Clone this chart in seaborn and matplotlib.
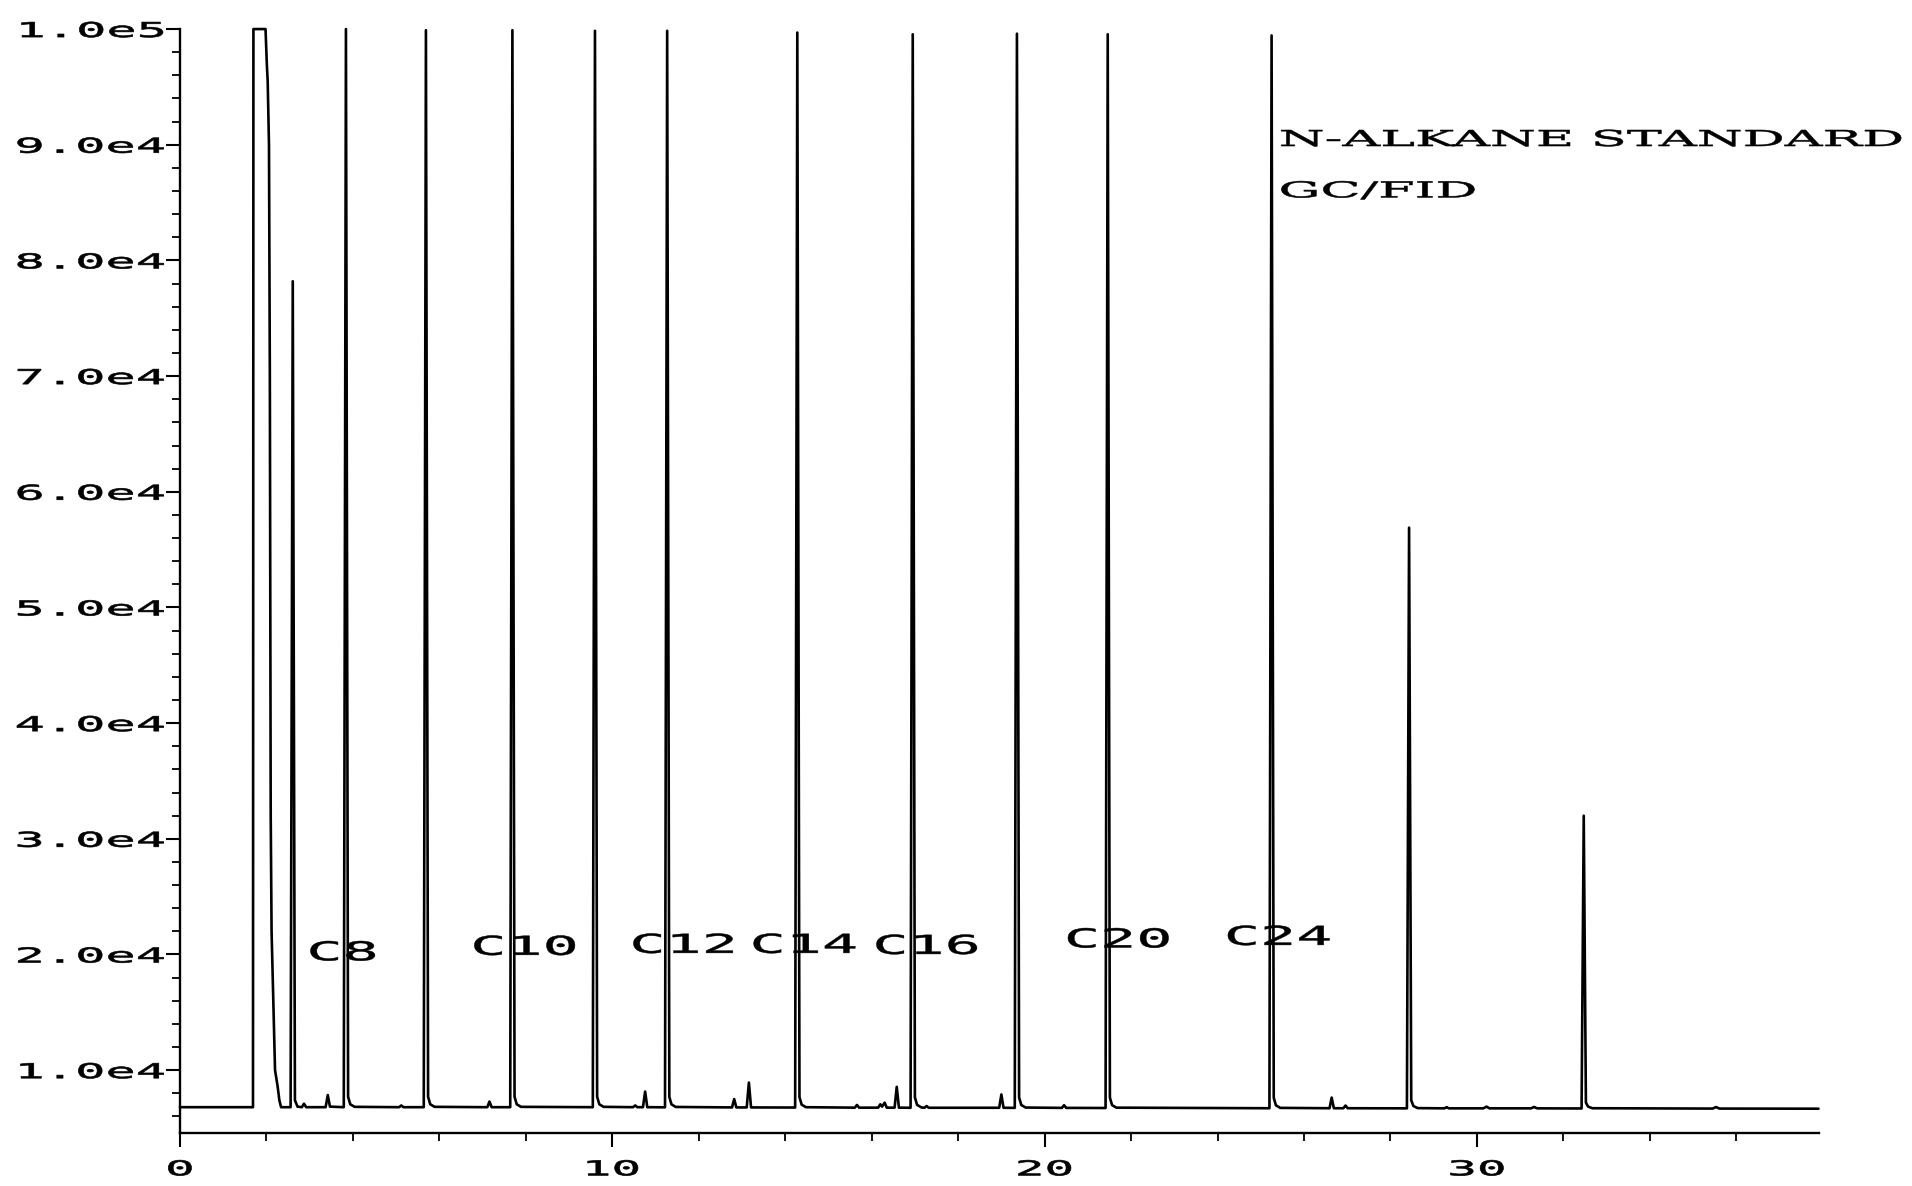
import numpy as np
import pandas as pd
import matplotlib
matplotlib.use("Agg")
import matplotlib.pyplot as plt
import matplotlib.patheffects as pe
from matplotlib.transforms import Affine2D
from matplotlib.font_manager import FontProperties
import seaborn as sns

# ---------------- data ----------------
rt_min = [
    0.00, 1.69, 1.70, 1.98, 2.01, 2.03, 2.06, 2.08, 2.10, 2.12, 2.16, 2.20, 2.26, 2.30, 2.34,
    2.56, 2.61, 2.66, 2.72, 2.82, 2.87, 2.92, 3.37, 3.42, 3.47,
    3.79, 3.84, 3.89, 3.94, 4.04,
    5.07, 5.12, 5.17,
    5.64, 5.69, 5.74, 5.79, 5.89,
    7.11, 7.16, 7.21,
    7.64, 7.69, 7.74, 7.79, 7.89,
    9.55, 9.60, 9.65, 9.70, 9.80,
    10.48, 10.53, 10.58, 10.71, 10.76, 10.81,
    11.22, 11.27, 11.32, 11.37, 11.47,
    12.77, 12.82, 12.87, 13.11, 13.16, 13.21,
    14.23, 14.28, 14.33, 14.38, 14.48,
    15.61, 15.66, 15.71, 16.15, 16.20, 16.24, 16.30, 16.35, 16.53, 16.58, 16.63,
    16.90, 16.95, 17.00, 17.05, 17.15, 17.22, 17.27, 17.32,
    18.95, 19.00, 19.05,
    19.31, 19.36, 19.41, 19.46, 19.56,
    20.40, 20.45, 20.50,
    21.41, 21.46, 21.51, 21.56, 21.66,
    25.20, 25.25, 25.30, 25.35, 25.45,
    26.59, 26.64, 26.69, 26.91, 26.96, 27.01,
    28.38, 28.43, 28.48, 28.53, 28.63,
    29.25, 29.30, 29.35, 30.15, 30.22, 30.29, 31.25, 31.32, 31.39,
    32.42, 32.47, 32.52, 32.57, 32.67,
    35.45, 35.53, 35.61, 37.90,
]
fid_signal = [
    6800, 6800, 100000, 100000, 97000, 95500, 90000, 70000, 32000, 22000, 16000, 10000, 8600, 7400, 6800,
    6800, 78200, 7400, 6850, 6800, 7100, 6800, 6800, 7850, 6850,
    6800, 100000, 7700, 7050, 6830,
    6800, 6950, 6800,
    6800, 99900, 7700, 7050, 6830,
    6800, 7290, 6800,
    6800, 99900, 7700, 7050, 6830,
    6800, 99850, 7700, 7050, 6830,
    6800, 6950, 6800, 6800, 8150, 6800,
    6790, 99850, 7690, 7040, 6820,
    6780, 7500, 6780, 6780, 8930, 6780,
    6770, 99700, 7670, 7020, 6800,
    6760, 6990, 6760, 6760, 7050, 6850, 7190, 6760, 6760, 8560, 6760,
    6750, 99550, 7650, 7000, 6780, 6750, 6900, 6750,
    6750, 7900, 6750,
    6740, 99600, 7640, 6990, 6770,
    6740, 6970, 6740,
    6730, 99550, 7630, 6980, 6760,
    6710, 99450, 7610, 6960, 6740,
    6710, 7630, 6710, 6710, 6940, 6710,
    6700, 56900, 7400, 6900, 6720,
    6700, 6800, 6700, 6700, 6850, 6700, 6700, 6820, 6700,
    6690, 32000, 7200, 6850, 6710,
    6680, 6810, 6680, 6670,
]

peak_labels = ["C8", "C10", "C12", "C14", "C16", "C20", "C24"]
label_rt = [2.98, 6.77, 10.45, 13.23, 16.07, 20.50, 24.20]
label_signal = [19490, 19970, 20140, 20140, 20050, 20610, 20830]

note_lines = ["N-ALKANE STANDARD", "GC/FID"]
note_rt = [25.45, 25.45]
note_signal = [89890, 85450]

xtick_values = [0, 10, 20, 30]
xtick_labels = ["0", "10", "20", "30"]
ytick_values = [10000, 20000, 30000, 40000, 50000, 60000, 70000, 80000, 90000, 100000]
ytick_labels = ["1.0e4", "2.0e4", "3.0e4", "4.0e4", "5.0e4",
                "6.0e4", "7.0e4", "8.0e4", "9.0e4", "1.0e5"]


# --------------- helper: horizontally widened lettering ---------------
class HStretch(pe.AbstractPathEffect):
    """Draw text glyphs widened horizontally (plotter-style extended type),
    optionally with a thin outline to give the heavier pen weight."""

    def __init__(self, sx, anchor=0.0, weight=0.0):
        super().__init__()
        self._sx = sx
        self._anchor = anchor
        self._weight = weight

    def draw_path(self, renderer, gc, tpath, affine, rgbFace=None):
        ext = tpath.get_extents()
        x0 = ext.x0 + self._anchor * ext.width
        stretch = Affine2D().translate(-x0, 0).scale(self._sx, 1.0).translate(x0, 0)
        tr = stretch + affine
        if self._weight > 0:
            gc0 = renderer.new_gc()
            gc0.copy_properties(gc)
            gc0.set_linewidth(self._weight)
            gc0.set_foreground(rgbFace if rgbFace is not None else gc.get_rgb())
            gc0.set_joinstyle("round")
            renderer.draw_path(gc0, tpath, tr, rgbFace)
            gc0.restore()
        else:
            renderer.draw_path(gc, tpath, tr, rgbFace)


sns.set_style("ticks")
plt.rcParams["font.family"] = ["DejaVu Sans Mono", "DejaVu Sans"]

tick_font = FontProperties(family="DejaVu Sans Mono", size=14.8)
label_font = FontProperties(family="DejaVu Sans Mono", size=18.8)
note_font = FontProperties(family="DejaVu Serif", size=15.8)

fig = plt.figure(figsize=(19.12, 11.86), dpi=100)
fig.patch.set_facecolor("white")
ax = fig.add_axes([0.0941, 0.0447, 0.8570, 0.9308])

df = pd.DataFrame({"rt_min": rt_min, "signal": fid_signal})
sns.lineplot(data=df, x="rt_min", y="signal", sort=False, estimator=None,
             color="black", linewidth=1.9, ax=ax, clip_on=False)

ax.set_xlim(0, 37.9)
ax.set_ylim(4570, 100000)
ax.set_xlabel("")
ax.set_ylabel("")

ax.set_xticks(xtick_values, xtick_labels)
ax.set_xticks([v for v in np.arange(2, 37, 2) if v % 10 != 0], minor=True)
ax.set_yticks(ytick_values, ytick_labels)
ax.set_yticks([v for v in np.arange(6000, 100000, 2000) if v % 10000 != 0], minor=True)

ax.tick_params(axis="both", which="major", direction="out", length=10, width=1.5,
               color="black", labelcolor="black")
ax.tick_params(axis="both", which="minor", direction="out", length=5.5, width=1.3,
               color="black")
ax.tick_params(axis="y", which="major", pad=1)
ax.tick_params(axis="x", which="major", pad=9)

for lab in ax.get_yticklabels():
    lab.set_fontproperties(tick_font)
    lab.set_path_effects([HStretch(2.45, anchor=1.0, weight=0.45)])
for lab in ax.get_xticklabels():
    lab.set_fontproperties(tick_font)
    lab.set_path_effects([HStretch(2.4, anchor=0.5, weight=0.45)])

for side in ("top", "right"):
    ax.spines[side].set_visible(False)
for side in ("left", "bottom"):
    ax.spines[side].set_linewidth(1.7)
    ax.spines[side].set_color("black")

for txt, xv, yv in zip(peak_labels, label_rt, label_signal):
    ax.text(xv, yv, txt, ha="left", va="baseline", fontproperties=label_font,
            color="black", path_effects=[HStretch(2.3, anchor=0.0, weight=0.35)])

for txt, xv, yv in zip(note_lines, note_rt, note_signal):
    ax.text(xv, yv, txt, ha="left", va="baseline", fontproperties=note_font,
            color="black", path_effects=[HStretch(2.39, anchor=0.0, weight=0.4)])

ax.grid(False)
fig.savefig("out.png", dpi=100, facecolor="white")
